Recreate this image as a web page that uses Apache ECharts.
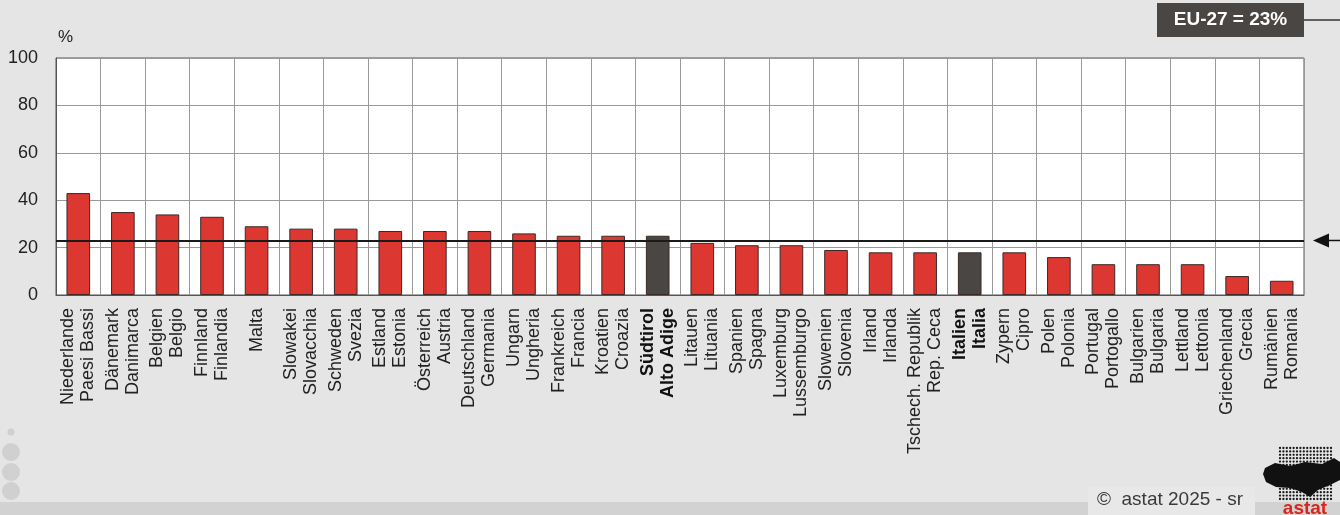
<!DOCTYPE html>
<html>
<head>
<meta charset="utf-8">
<script src="https://cdn.jsdelivr.net/npm/echarts@6/dist/echarts.min.js"></script>
<style>
html,body{margin:0;padding:0;background:#e5e5e5;}
#c{width:1340px;height:515px;}
</style>
</head>
<body>
<div id="c"></div>
<script>
const namesDE = ["Niederlande","Dänemark","Belgien","Finnland","Malta","Slowakei","Schweden","Estland","Österreich","Deutschland","Ungarn","Frankreich","Kroatien","Südtirol","Litauen","Spanien","Luxemburg","Slowenien","Irland","Tschech. Republik","Italien","Zypern","Polen","Portugal","Bulgarien","Lettland","Griechenland","Rumänien"];
const namesIT = ["Paesi Bassi","Danimarca","Belgio","Finlandia","","Slovacchia","Svezia","Estonia","Austria","Germania","Ungheria","Francia","Croazia","Alto Adige","Lituania","Spagna","Lussemburgo","Slovenia","Irlanda","Rep. Ceca","Italia","Cipro","Polonia","Portogallo","Bulgaria","Lettonia","Grecia","Romania"];
const values = [43,35,34,33,29,28,28,27,27,27,26,25,25,25,22,21,21,19,18,18,18,18,16,13,13,13,8,6];
const highlighted = ["Südtirol","Italien"];
const euValue = 23;
const euLabel = "EU-27 = 23%";
const yTicks = [0,20,40,60,80,100];
const copyright = "©  astat 2025 - sr";

const FONT = "'Liberation Sans', Arial, sans-serif";
const categories = namesDE.map((d,i)=> namesIT[i] ? d + "\n" + namesIT[i] : d);

const chart = echarts.init(document.getElementById('c'), null, {renderer:'canvas'});

const option = {
  backgroundColor: '#e5e5e5',
  animation: false,
  grid: {left:56, right:36, top:58, bottom:220, show:true, backgroundColor:'#ffffff', borderColor:'#555555', borderWidth:1},
  xAxis: {
    type:'category', data: categories,
    axisLine:{show:true, lineStyle:{color:'#555555', width:1}},
    axisTick:{show:false},
    splitLine:{show:true, lineStyle:{color:'#999999', width:1}},
    axisLabel:{
      rotate:90, interval:0, margin:13, fontFamily:FONT, fontSize:18, lineHeight:20, color:'#222222',
      formatter:(v)=>{
        const de = v.split('\n')[0];
        if (highlighted.indexOf(de) >= 0) {
          return v.split('\n').map(s=>'{b|'+s+'}').join('\n');
        }
        return v;
      },
      rich:{b:{fontWeight:'bold', fontFamily:FONT, fontSize:18, lineHeight:20, color:'#111111'}}
    }
  },
  yAxis: {
    type:'value', min:yTicks[0], max:yTicks[yTicks.length-1], interval:yTicks[1]-yTicks[0],
    name:'%', nameGap:12, nameTextStyle:{align:'left', fontFamily:FONT, fontSize:17, color:'#222222', padding:[0,0,0,2]},
    axisLine:{show:true, lineStyle:{color:'#555555'}},
    axisTick:{show:false},
    splitLine:{show:true, lineStyle:{color:'#999999', width:1}},
    axisLabel:{margin:18, fontFamily:FONT, fontSize:18, color:'#222222'}
  },
  series: [{
    type:'bar', data: values, barWidth:'53%',
    itemStyle:{
      color:(p)=> highlighted.indexOf(namesDE[p.dataIndex])>=0 ? '#4a4643' : '#dc3731',
      borderColor:'#3a2a28', borderWidth:1
    },
    markLine:{
      silent:true, symbol:['none','none'], label:{show:false},
      lineStyle:{color:'#1a1a1a', width:2, type:'solid'},
      data:[{yAxis: euValue}]
    }
  }]
};
chart.setOption(option);

const yEu = chart.convertToPixel({yAxisIndex:0}, euValue);
const gfx = [];
// EU-27 label box
gfx.push({type:'rect', shape:{x:1157, y:3, width:147, height:34}, style:{fill:'#4a4643'}});
gfx.push({type:'text', x:1230.5, y:20, style:{text:euLabel, fill:'#ffffff', font:"bold 19px 'Liberation Sans', Arial, sans-serif", align:'center', verticalAlign:'middle'}});
gfx.push({type:'line', shape:{x1:1304, y1:20, x2:1340, y2:20}, style:{stroke:'#333333', lineWidth:1.5}});
// arrow at EU line
gfx.push({type:'polygon', shape:{points:[[1313,yEu],[1329,yEu-7],[1329,yEu+7]]}, style:{fill:'#111111'}});
gfx.push({type:'line', shape:{x1:1325, y1:yEu, x2:1340, y2:yEu}, style:{stroke:'#111111', lineWidth:1.5}});
// bottom strip
gfx.push({type:'rect', z:-1, shape:{x:0, y:502, width:1340, height:13}, style:{fill:'#d2d2d2'}});
gfx.push({type:'rect', shape:{x:1088, y:487, width:167, height:28}, style:{fill:'#e8e8e8'}});
gfx.push({type:'text', x:1097, y:500, style:{text:copyright, fill:'#3a3a3a', font:"19px 'Liberation Sans', Arial, sans-serif", verticalAlign:'middle'}});
// left decoration circles
gfx.push({type:'circle', shape:{cx:11, cy:432, r:3.5}, style:{fill:'#d0d0d0'}});
gfx.push({type:'circle', shape:{cx:11, cy:452, r:9}, style:{fill:'#d0d0d0'}});
gfx.push({type:'circle', shape:{cx:11, cy:472, r:9}, style:{fill:'#d0d0d0'}});
gfx.push({type:'circle', shape:{cx:11, cy:491, r:9}, style:{fill:'#d0d0d0'}});
// logo: dot grid
for (let r=0; r<16; r++) {
  for (let c=0; c<16; c++) {
    const x = 1280 + c*3.4, y = 448 + r*3.4;
    gfx.push({type:'circle', shape:{cx:x, cy:y, r:1.15}, style:{fill:'#1a1a1a'}});
  }
}
gfx.push({type:'polygon', shape:{points:[[1265,468],[1275,463],[1290,466],[1305,462],[1322,464],[1334,458],[1340,462],[1340,480],[1330,485],[1318,490],[1310,497],[1302,492],[1290,488],[1276,487],[1266,482],[1263,474]]}, style:{fill:'#111111'}});
gfx.push({type:'text', x:1305, y:509, style:{text:'astat', fill:'#d7261e', font:"bold 19px 'Liberation Sans', Arial, sans-serif", align:'center', verticalAlign:'middle'}});
chart.setOption({graphic: gfx});
</script>
</body>
</html>
